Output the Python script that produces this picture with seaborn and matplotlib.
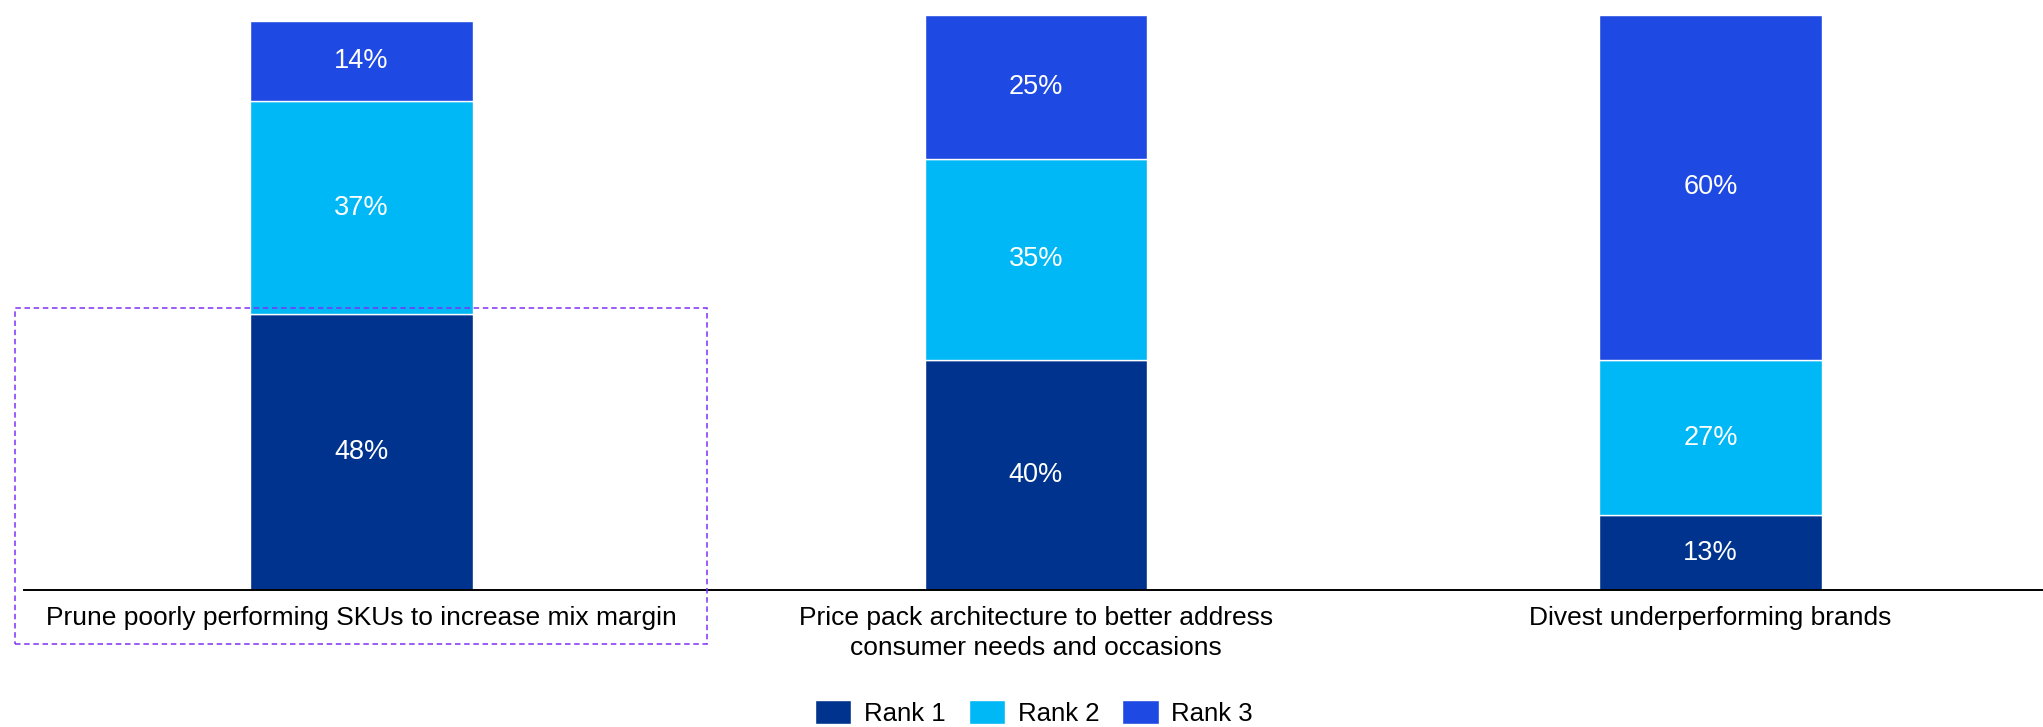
import matplotlib
matplotlib.use("Agg")
import matplotlib.pyplot as plt
from matplotlib.patches import Rectangle
import numpy as np
import pandas as pd
import seaborn as sns

# Data
categories = [
    "Prune poorly performing SKUs to increase mix margin",
    "Price pack architecture to better address\nconsumer needs and occasions",
    "Divest underperforming brands",
]
series_names = ["Rank 1", "Rank 2", "Rank 3"]
rank1 = [48, 40, 13]
rank2 = [37, 35, 27]
rank3 = [14, 25, 60]

colors = ["#00338D", "#00B8F5", "#1E49E2"]
highlight = "#7F2FF5"

sns.set_theme(style="white")
plt.rcParams["font.family"] = ["Liberation Sans", "DejaVu Sans"]
plt.rcParams["text.color"] = "black"

W, H = 2043, 727
fig = plt.figure(figsize=(W / 100, H / 100), dpi=100)
ax = fig.add_axes([24 / W, (H - 590) / H, 1 - 24 / W, 590 / H])

series = [rank1, rank2, rank3]
bottom = np.zeros(len(categories))
for name, vals, col in zip(series_names, series, colors):
    df = pd.DataFrame({"category": categories, "value": vals})
    sns.barplot(
        data=df, x="category", y="value", color=col, width=0.33,
        bottom=bottom.copy(), edgecolor="white", linewidth=1.0,
        label=name, ax=ax, errorbar=None, saturation=1,
    )
    for i, v in enumerate(vals):
        ax.text(i, bottom[i] + v / 2, f"{v}%", ha="center", va="center",
                color="white", fontsize=19.5)
    bottom += np.array(vals)

ax.set_xlim(-0.5, 2.493)
ax.set_ylim(0, 102.6)
ax.set_xlabel("")
ax.set_ylabel("")
ax.set_yticks([])
ax.tick_params(axis="x", length=0, pad=11.5, labelsize=19, labelcolor="black")
for lab in ax.get_xticklabels():
    lab.set_multialignment("center")
    lab.set_linespacing(1.32)
for s in ["top", "right", "left"]:
    ax.spines[s].set_visible(False)
ax.spines["bottom"].set_color("black")
ax.spines["bottom"].set_linewidth(1.4)

# Dashed highlight around the first category's Rank 1 segment and its label
fig.patches.append(Rectangle(
    (15 / W, (H - 644) / H), (707 - 15) / W, (644 - 308) / H,
    transform=fig.transFigure, fill=False, edgecolor=highlight,
    linewidth=1.1, linestyle=(0, (3.6, 2.4)), zorder=5,
))

handles, labels = ax.get_legend_handles_labels()
if ax.get_legend() is not None:
    ax.get_legend().remove()
leg = fig.legend(
    handles[:3], labels[:3], loc="center", bbox_to_anchor=(1034 / W, 14 / H),
    ncol=3, frameon=False, fontsize=18.5, handlelength=1.42, handleheight=1.03,
    handletextpad=0.49, columnspacing=0.9, borderpad=0, borderaxespad=0,
)
for t in leg.get_texts():
    t.set_color("black")

fig.savefig("out.png", dpi=100)
